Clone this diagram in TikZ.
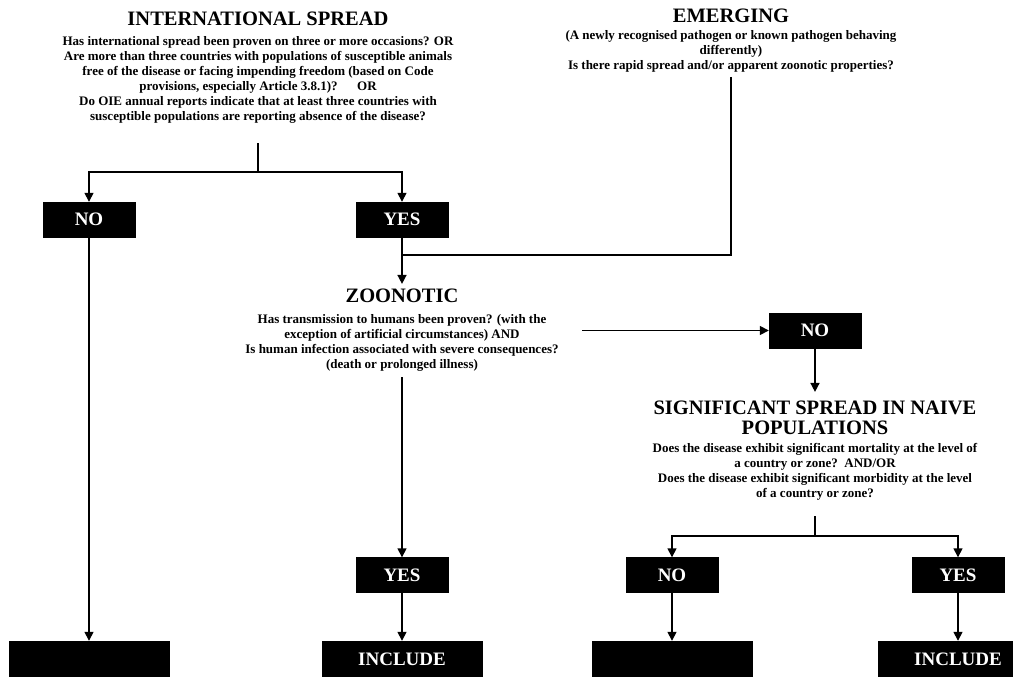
\documentclass[tikz,border=0pt]{standalone}
\usepackage{fontspec}
\setmainfont{Liberation Serif}
\usetikzlibrary{arrows.meta}
\begin{document}
\begin{tikzpicture}[x=1pt,y=-1pt,
  box/.style={fill=black,draw=black,text=white,font=\fontsize{19}{19}\selectfont\bfseries,minimum width=92pt,minimum height=35pt,inner sep=0pt},
  bigbox/.style={box,minimum width=160pt,minimum height=36pt},
  ttl/.style={font=\fontsize{20.5}{20}\selectfont\bfseries,align=center,inner sep=0pt},
  txt/.style={font=\fontsize{13}{15}\selectfont\bfseries,align=center,inner sep=0pt},
  ln/.style={line width=1.5pt},
  arr/.style={ln,-{Triangle[length=9pt,width=9pt]}}]
\useasboundingbox (0,0) rectangle (1013,677);
% International spread
\node[ttl] (intT) at (258,19) {INTERNATIONAL SPREAD};
\node[txt] (intQ) at (258,80) {Has international spread been proven on three or more occasions? OR\\
Are more than three countries with populations of susceptible animals\\
free of the disease or facing impending freedom (based on Code\\
provisions, especially Article 3.8.1)?\hspace{1.5em}OR\\
Do OIE annual reports indicate that at least three countries with\\
susceptible populations are reporting absence of the disease?};
\coordinate (intS) at (258,143);
\coordinate (intB) at (258,172);
\node[box] (no1) at (89,219.5) {NO};
\node[box] (yes1) at (402,219.5) {YES};
\draw[ln] (intS) -- (intB);
\draw[arr] (intB) -| (no1);
\draw[arr] (intB) -| (yes1);
% Emerging
\node[ttl] (emT) at (731,16) {EMERGING};
\node[txt] (emQ) at (731,51) {(A newly recognised pathogen or known pathogen behaving\\
differently)\\
Is there rapid spread and/or apparent zoonotic properties?};
\coordinate (emS) at (731,77);
\coordinate (J) at (402,255);
\draw[ln] (emS) |- (J);
% Zoonotic
\node[ttl] (zT) at (402,296) {ZOONOTIC};
\draw[arr] (yes1) -- ([yshift=5pt]zT.north);
\node[txt] (zQ) at (402,343) {Has transmission to humans been proven? (with the\\
exception of artificial circumstances) AND\\
Is human infection associated with severe consequences?\\
(death or prolonged illness)};
\coordinate (zE) at (582,330.5);
\node[box] (no2) at (815,330.5) {NO};
\draw[arr] (zE) -- (no2);
% Significant spread
\node[ttl] (sT) at (815,418) {SIGNIFICANT SPREAD IN NAIVE\\ POPULATIONS};
\draw[arr] (no2) -- ([yshift=9pt]sT.north);
\node[txt] (sQ) at (815,472) {Does the disease exhibit significant mortality at the level of\\
a country or zone?\ \ AND/OR\\
Does the disease exhibit significant morbidity at the level\\
of a country or zone?};
\coordinate (sS) at (815,516);
\coordinate (sB) at (815,536);
\node[box] (no3) at (672,575) {NO};
\node[box] (yes3) at (958,575) {YES};
\draw[ln] (sS) -- (sB);
\draw[arr] (sB) -| (no3);
\draw[arr] (sB) -| (yes3);
\node[box] (yes2) at (402,575) {YES};
\coordinate (zS) at (402,377);
\draw[arr] (zS) -- (yes2);
% Outcomes
\node[bigbox] (ex1) at (89,659) {};
\node[bigbox] (inc1) at (402,659) {INCLUDE};
\node[bigbox] (ex2) at (672,659) {};
\node[bigbox] (inc2) at (958,659) {INCLUDE};
\draw[arr] (no1) -- (ex1);
\draw[arr] (yes2) -- (inc1);
\draw[arr] (no3) -- (ex2);
\draw[arr] (yes3) -- (inc2);
\end{tikzpicture}
\end{document}
